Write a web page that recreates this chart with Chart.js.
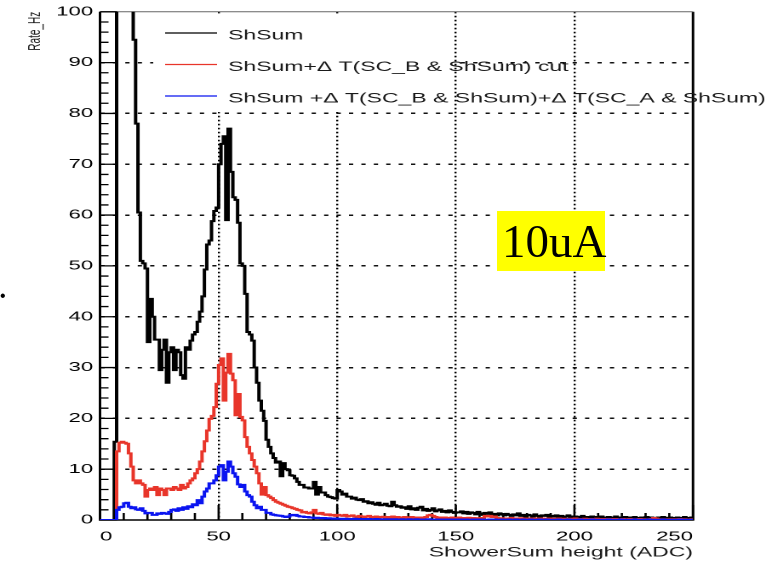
<!DOCTYPE html>
<html>
<head>
<meta charset="utf-8">
<script src="https://cdn.jsdelivr.net/npm/chart.js@4.4.1/dist/chart.umd.min.js"></script>
<style>
  html, body { margin: 0; padding: 0; background: #fff; }
  #page { position: relative; width: 783px; height: 564px; overflow: hidden; }
  /* the ROOT canvas is shown stretched sideways on the slide */
  #plot { position: absolute; left: 0; top: 0; width: 460px; height: 564px;
          transform: scaleX(1.70217); transform-origin: 0 0; }
  #tag { position: absolute; left: 497px; top: 211px; width: 108px; height: 60px;
         box-sizing: border-box; padding-left: 5px; background: #ffff00; color: #000;
         font: 47px "Liberation Serif", "Times New Roman", serif; line-height: 60px; }
  #bullet { position: absolute; left: 0; top: 287px; color: #000;
            font: 16px "Liberation Sans", Arial, sans-serif; }
</style>
</head>
<body>
<div id="page">
  <div id="plot"><canvas id="myChart"></canvas></div>
  <div id="tag">10uA</div>
  <div id="bullet">&bull;</div>
</div>
<script>
// ShowerSum height spectrum, 1 ADC wide bins from 0 to 250
var BIN_WIDTH = 1;

// ShSum, no cut
var shSum = [
    0, 0, 0, 0, 0, 0, 15.4, 330, 300, 260,
    215, 175, 140, 112, 94.5, 78, 60.5, 51, 50.5, 49.5,
    35, 43.5, 40, 35.5, 35.5, 29.5, 33.5, 35.5, 27, 33,
    34, 29.5, 33.5, 33, 28.5, 27.8, 34, 33.5, 35.3, 36.5,
    37, 39, 41, 44, 49.3, 54.2, 55, 58.8, 60.8, 61.5,
    70, 74, 75.5, 59, 77, 68.5, 63.5, 63, 58.5, 50.5,
    50, 44.5, 37, 36.5, 35.3, 30, 27, 23.5, 21.5, 19.5,
    15.8, 14.4, 13.1, 12.2, 11.3, 11.5, 8.6, 11.2, 10, 9.8,
    8.8, 8.7, 8.2, 7.5, 6.9, 6.9, 6.4, 6.4, 6.2, 6.2,
    7.5, 5.0, 6.5, 5.4, 5.4, 4.9, 4.6, 4.5, 4.3, 4.2,
    5.9, 5.6, 5.0, 5.2, 4.6, 4.6, 4.2, 4.4, 4.0, 3.9,
    4.1, 3.6, 3.7, 3.3, 3.5, 3.2, 3.0, 3.4, 2.9, 3.0,
    3.2, 2.8, 2.7, 3.6, 2.9, 2.6, 2.7, 2.4, 2.5, 2.2,
    2.7, 2.1, 2.3, 2.0, 2.4, 2.6, 1.9, 2.2, 1.8, 2.0,
    2.3, 1.7, 1.9, 2.1, 1.6, 1.8, 1.5, 1.9, 1.6, 1.4,
    1.5, 1.5, 1.7, 1.3, 1.6, 1.2, 1.5, 1.4, 1.1, 1.6,
    1.3, 1.0, 1.4, 1.2, 1.5, 1.0, 1.2, 0.9, 1.3, 1.1,
    0.9, 1.2, 1.0, 0.8, 1.1, 0.9, 1.3, 0.8, 1.0, 0.7,
    1.0, 0.9, 0.7, 1.1, 0.8, 0.6, 0.9, 0.8, 1.0, 0.6,
    0.8, 0.7, 0.9, 0.6, 0.8, 0.5, 0.7, 0.9, 0.6, 0.7,
    0.7, 0.5, 0.6, 0.8, 0.4, 0.6, 0.5, 0.7, 0.4, 0.6,
    0.5, 0.7, 0.4, 0.5, 0.6, 0.3, 0.5, 0.7, 0.4, 0.5,
    0.4, 0.6, 0.3, 0.5, 0.4, 0.6, 0.4, 0.3, 0.5, 0.4,
    0.6, 0.3, 0.5, 0.4, 0.3, 0.5, 0.4, 0.6, 0.3, 0.4,
    0.5, 0.3, 0.4, 0.5, 0.3, 0.4, 0.6, 0.3, 0.4, 0.5
];

// ShSum with the dT(SC_B & ShSum) cut
var shSumCutB = [
    0, 0, 0, 0, 0, 0, 0, 13.5, 15.2, 15.4,
    15.2, 15.0, 13.1, 10.5, 7.8, 7.2, 7.8, 7.2, 6.9, 4.6,
    5.9, 6.2, 5.9, 6.5, 4.9, 6.2, 5.9, 4.9, 6.2, 6.2,
    5.9, 6.5, 6.2, 5.9, 6.9, 6.2, 6.5, 7.2, 7.8, 8.2,
    9.2, 10, 11.5, 13.5, 15.5, 17.6, 19.9, 20.5, 22.2, 26.8,
    30.5, 31.8, 23.5, 29, 32.7, 28.8, 27.5, 20.6, 24.8, 20.3,
    19.6, 16.3, 14.4, 13.1, 11.8, 10.5, 9.2, 7.2, 5.0, 6.5,
    4.9, 4.6, 4.3, 3.9, 3.6, 3.4, 3.2, 3.0, 2.8, 2.6,
    2.5, 2.3, 2.2, 2.0, 1.9, 1.5, 1.6, 1.4, 1.3, 1.5,
    2.0, 1.3, 1.2, 1.4, 1.1, 1.0, 1.1, 0.9, 1.0, 0.8,
    1.0, 0.9, 0.8, 1.0, 0.7, 0.8, 0.9, 0.7, 0.6, 0.8,
    0.7, 0.6, 0.7, 0.8, 0.5, 0.6, 0.7, 0.5, 0.6, 0.65,
    0.5, 0.6, 0.5, 0.7, 0.5, 0.6, 0.4, 0.5, 0.6, 0.4,
    0.5, 0.6, 0.4, 0.5, 0.45, 0.5, 0.4, 0.6, 0.9, 1.0,
    0.8, 0.6, 0.4, 0.5, 0.4, 0.5, 0.35, 0.4, 0.5, 0.3,
    0.4, 0.5, 0.3, 0.4, 0.35, 0.45, 0.3, 0.4, 0.3, 0.35,
    0.4, 0.3, 0.8, 0.7, 0.8, 0.6, 0.7, 0.4, 0.3, 0.35,
    0.3, 0.25, 0.3, 0.4, 0.3, 0.25, 0.3, 0.35, 0.2, 0.3,
    0.25, 0.3, 0.2, 0.25, 0.3, 0.2, 0.3, 0.25, 0.2, 0.3,
    0.2, 0.25, 0.2, 0.3, 0.2, 0.25, 0.2, 0.15, 0.25, 0.2,
    0.3, 0.2, 0.15, 0.2, 0.25, 0.15, 0.2, 0.15, 0.2, 0.25,
    0.15, 0.2, 0.15, 0.2, 0.1, 0.2, 0.15, 0.2, 0.1, 0.15,
    0.2, 0.15, 0.1, 0.2, 0.15, 0.1, 0.15, 0.2, 0.1, 0.15,
    0.1, 0.15, 0.2, 0.4, 0.3, 0.1, 0.15, 0.1, 0.15, 0.1,
    0.15, 0.1, 0.15, 0.1, 0.2, 0.1, 0.15, 0.1, 0.1, 0.15
];

// ShSum with both dT(SC_B & ShSum) and dT(SC_A & ShSum) cuts
var shSumCutAB = [
    0, 0, 0, 0, 0, 0, 0, 2.0, 2.5, 2.6,
    3.3, 3.4, 2.6, 2.3, 2.5, 2.1, 2.0, 2.3, 1.8, 1.3,
    1.4, 1.4, 1.0, 1.0, 1.3, 1.2, 1.4, 1.3, 1.2, 1.6,
    2.0, 2.1, 1.8, 2.3, 2.0, 2.5, 2.2, 2.7, 2.5, 3.1,
    2.9, 3.9, 3.3, 4.6, 5.6, 6.2, 7.2, 7.2, 7.8, 8.8,
    10.5, 10.8, 7.8, 9.5, 11.5, 10.5, 9.2, 8.5, 7.0, 6.5,
    6.9, 5.6, 4.9, 4.6, 3.6, 2.9, 2.3, 2.6, 2.0, 2.0,
    1.4, 1.4, 1.1, 1.0, 0.9, 0.85, 0.8, 0.7, 0.6, 0.7,
    1.0, 0.9, 1.0, 0.8, 0.7, 0.7, 0.6, 0.6, 0.5, 0.5,
    0.4, 0.45, 0.4, 0.35, 0.4, 0.3, 0.35, 0.3, 0.25, 0.3,
    0.25, 0.25, 0.2, 0.25, 0.2, 0.15, 0.2, 0.25, 0.15, 0.2,
    0.15, 0.2, 0.15, 0.2, 0.1, 0.15, 0.2, 0.1, 0.15, 0.1,
    0.15, 0.1, 0.15, 0.1, 0.15, 0.1, 0.1, 0.15, 0.1, 0.1,
    0.15, 0.1, 0.1, 0.15, 0.1, 0.05, 0.1, 0.1, 0.15, 0.1,
    0.05, 0.1, 0.1, 0.05, 0.1, 0.1, 0.05, 0.1, 0.05, 0.1,
    0.1, 0.05, 0.1, 0.05, 0.1, 0.05, 0.05, 0.1, 0.05, 0.1,
    0.05, 0.1, 0.05, 0.05, 0.1, 0.05, 0.1, 0.05, 0.05, 0.1,
    0.05, 0.05, 0.1, 0.05, 0.05, 0.1, 0.05, 0.05, 0.1, 0.05,
    0.05, 0.1, 0.05, 0.05, 0.05, 0.1, 0.05, 0.05, 0.1, 0.05,
    0.05, 0.05, 0.05, 0.1, 0.05, 0.05, 0.05, 0.1, 0.05, 0.05,
    0.05, 0.05, 0.1, 0.05, 0.05, 0.05, 0.05, 0.1, 0.05, 0.05,
    0.05, 0.05, 0.05, 0.05, 0.1, 0.05, 0.05, 0.05, 0.05, 0.1,
    0.05, 0.05, 0.05, 0.05, 0.05, 0.1, 0.05, 0.05, 0.05, 0.05,
    0.05, 0.1, 0.05, 0.05, 0.05, 0.05, 0.05, 0.1, 0.05, 0.05,
    0.05, 0.05, 0.05, 0.05, 0.1, 0.05, 0.05, 0.05, 0.05, 0.05
];

var seriesLabels = [
    'ShSum',
    'ShSum+\u0394 T(SC_B & ShSum) cut',
    'ShSum +\u0394 T(SC_B & ShSum)+\u0394 T(SC_A & ShSum)'
];
var seriesColors = ['#000000', '#e8352a', '#0a14f0'];

var X_MIN = 0, X_MAX = 250, X_STEP = 50, X_MINOR = 10;
var Y_MIN = 0, Y_MAX = 100, Y_STEP = 10, Y_MINOR = 2;

var FONT = '"Liberation Sans", Arial, Helvetica, sans-serif';

// histogram -> step line: one point at each lower bin edge plus the closing edge
function toSteps(values) {
    var pts = values.map(function (v, i) {
        return {x: X_MIN + i * BIN_WIDTH, y: v};
    });
    pts.push({x: X_MIN + values.length * BIN_WIDTH, y: values[values.length - 1]});
    return pts;
}

var histos = [shSum, shSumCutB, shSumCutAB];
var datasets = histos.map(function (h, i) {
    return {
        label: seriesLabels[i],
        data: toSteps(h),
        borderColor: seriesColors[i],
        backgroundColor: seriesColors[i],
        borderWidth: 2,
        stepped: 'before',
        pointRadius: 0,
        fill: false
    };
}).reverse();

// ROOT style frame: white legend pad, box, ticks pointing inwards
var rootFrame = {
    id: 'rootFrame',
    beforeDatasetsDraw: function (chart) {
        var ctx = chart.ctx, a = chart.chartArea;
        var xs = chart.scales.x, ys = chart.scales.y;
        ctx.save();
        ctx.fillStyle = '#ffffff';
        ctx.fillRect(90, 15, 176, 97);

        ctx.strokeStyle = '#000';
        ctx.lineWidth = 1.5;
        ctx.beginPath();
        ctx.moveTo(a.left, a.top);
        ctx.lineTo(a.left, a.bottom);
        ctx.lineTo(a.right, a.bottom);
        ctx.lineTo(a.right, a.top);
        ctx.stroke();
        ctx.strokeStyle = '#666';
        ctx.lineWidth = 1;
        ctx.beginPath();
        ctx.moveTo(a.left, a.top);
        ctx.lineTo(a.right, a.top);
        ctx.stroke();

        ctx.strokeStyle = '#000';
        ctx.lineWidth = 1.3;
        ctx.beginPath();
        for (var v = Y_MIN; v <= Y_MAX; v += Y_MINOR) {
            var py = ys.getPixelForValue(v);
            var len = (v % Y_STEP === 0) ? 10 : 5;
            ctx.moveTo(a.left, py);
            ctx.lineTo(a.left + len, py);
        }
        for (var u = X_MIN; u <= X_MAX; u += X_MINOR) {
            var px = xs.getPixelForValue(u);
            var tl = (u % X_STEP === 0) ? 15 : 7;
            ctx.moveTo(px, a.bottom);
            ctx.lineTo(px, a.bottom - tl);
        }
        ctx.stroke();
        ctx.restore();
    },
    afterDatasetsDraw: function (chart) {
        var ctx = chart.ctx;
        var rows = [33, 64.5, 96];
        ctx.save();
        ctx.font = '13.5px ' + FONT;
        ctx.textBaseline = 'middle';
        ctx.textAlign = 'left';
        seriesLabels.forEach(function (lab, i) {
            ctx.strokeStyle = seriesColors[i];
            ctx.lineWidth = 1.3;
            ctx.beginPath();
            ctx.moveTo(97, rows[i]);
            ctx.lineTo(127.5, rows[i]);
            ctx.stroke();
            ctx.fillStyle = '#1a1a1a';
            ctx.fillText(lab, 134, rows[i] + 3);
        });
        ctx.restore();
    }
};

function edgeless(lo, hi, col) {
    return function (c) {
        var v = c.tick ? c.tick.value : null;
        return (v === lo || v === hi) ? 'rgba(0,0,0,0)' : col;
    };
}

var ctx = document.getElementById('myChart').getContext('2d');
var myChart = new Chart(ctx, {
    type: 'line',
    data: {datasets: datasets},
    plugins: [rootFrame],
    options: {
        responsive: true,
        maintainAspectRatio: false,
        devicePixelRatio: 2,
        animation: false,
        layout: {padding: {left: 0, right: 52.87, top: 10, bottom: 0}},
        plugins: {legend: {display: false}, tooltip: {enabled: false}},
        scales: {
            x: {
                type: 'linear',
                min: X_MIN,
                max: X_MAX,
                afterFit: function (s) { s.height = 44; },
                ticks: {
                    stepSize: X_STEP,
                    padding: 9,
                    align: 'inner',
                    color: '#000',
                    font: {family: FONT, size: 13}
                },
                grid: {color: edgeless(X_MIN, X_MAX, '#000'), lineWidth: 1.2, drawTicks: false},
                border: {display: false, dash: [1.6, 2.4]},
                title: {
                    display: true,
                    text: 'ShowerSum height (ADC)',
                    align: 'end',
                    color: '#1a1a1a',
                    font: {family: FONT, size: 13.5},
                    padding: {top: 0, bottom: 3}
                }
            },
            y: {
                min: Y_MIN,
                max: Y_MAX,
                afterFit: function (s) { s.width = 58.75; },
                ticks: {
                    stepSize: Y_STEP,
                    padding: 4,
                    color: '#000',
                    font: {family: FONT, size: 13}
                },
                grid: {color: edgeless(Y_MIN, Y_MAX, '#111'), lineWidth: 1.5, drawTicks: false},
                border: {display: false, dash: [2.5, 4.8]},
                title: {
                    display: true,
                    text: 'Rate_Hz',
                    align: 'end',
                    color: '#1a1a1a',
                    font: {family: FONT, size: 10},
                    padding: {top: 14.6, bottom: 0}
                }
            }
        }
    }
});
</script>
</body>
</html>
